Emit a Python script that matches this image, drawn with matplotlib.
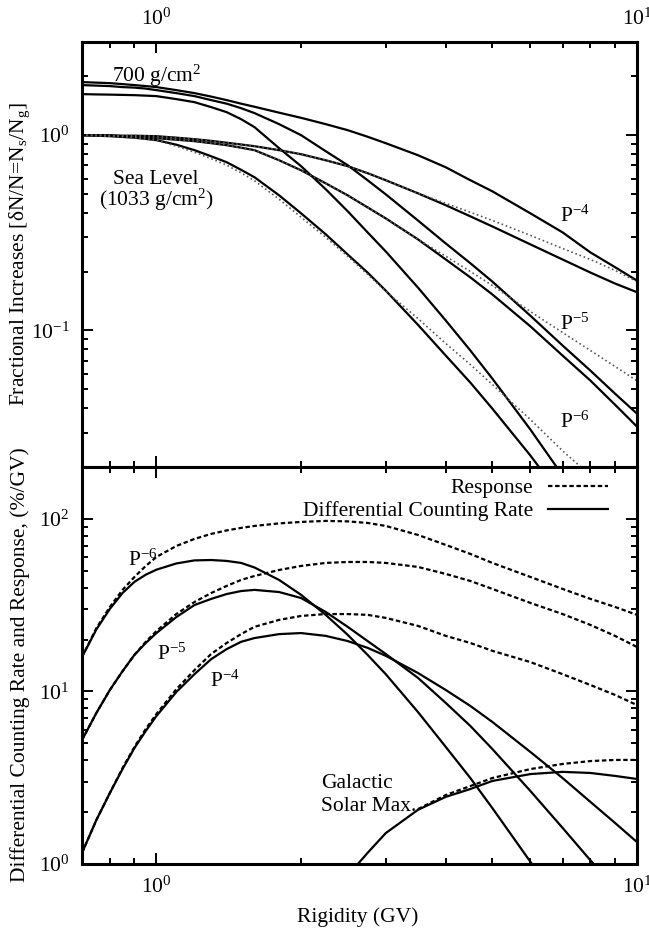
import matplotlib
matplotlib.use('Agg')
import matplotlib.pyplot as plt
from matplotlib.ticker import LogLocator, NullFormatter

plt.rcParams['font.family'] = ['Liberation Serif', 'DejaVu Serif']
plt.rcParams['mathtext.fontset'] = 'stix'
plt.rcParams['mathtext.default'] = 'regular'
plt.rcParams['font.size'] = 15.5

# rigidity grid (GV)
P = [0.7, 0.75, 0.8, 0.85, 0.9, 0.95, 1.0, 1.1, 1.2, 1.3, 1.4, 1.5, 1.6, 1.8, 2.0,
     2.25, 2.5, 2.75, 3.0, 3.5, 4.0, 4.5, 5.0, 6.0, 7.0, 8.0, 9.0, 10.0]

# top panel: fractional increases, 700 g/cm2
h700_p4 = [1.870, 1.858, 1.847, 1.826, 1.805, 1.784, 1.763, 1.701, 1.642, 1.576, 1.512, 1.450, 1.398, 1.304,
           1.227, 1.139, 1.061, 0.982, 0.910, 0.790, 0.685, 0.588, 0.516, 0.398, 0.318, 0.251, 0.211, 0.180]
h700_p5 = [1.805, 1.794, 1.784, 1.763, 1.752, 1.732, 1.701, 1.642, 1.585, 1.512, 1.450, 1.375, 1.297, 1.139,
           1.0, 0.828, 0.702, 0.588, 0.498, 0.366, 0.279, 0.221, 0.178, 0.119, 0.0838, 0.0623, 0.0475, 0.0375]
h700_p6 = [1.623, 1.617, 1.613, 1.608, 1.603, 1.594, 1.585, 1.530, 1.476, 1.392, 1.312, 1.208, 1.099, 0.858,
           0.694, 0.529, 0.408, 0.318, 0.254, 0.166, 0.1125, 0.0790, 0.0567, 0.0311, 0.0181]
# sea level
sea_p4 = [1.0, 1.0, 1.0, 0.994, 0.994, 0.991, 0.988, 0.971, 0.954, 0.935, 0.915, 0.896, 0.878, 0.838,
          0.799, 0.744, 0.694, 0.639, 0.588, 0.504, 0.438, 0.384, 0.341, 0.276, 0.231, 0.198, 0.174, 0.157]
sea_p5 = [1.0, 0.998, 0.994, 0.988, 0.982, 0.974, 0.965, 0.948, 0.932, 0.910, 0.889, 0.863, 0.838, 0.744,
          0.661, 0.567, 0.492, 0.427, 0.375, 0.293, 0.231, 0.187, 0.153, 0.105, 0.0744, 0.0554, 0.0417, 0.0322]
sea_p6 = [1.0, 0.994, 0.988, 0.979, 0.971, 0.957, 0.943, 0.894, 0.838, 0.780, 0.727, 0.665, 0.609, 0.492,
          0.398, 0.311, 0.245, 0.198, 0.160, 0.107, 0.0744, 0.0541, 0.0398, 0.0229, 0.0138]
# fitted approximations (dotted)
fit_p4 = [1.0, 1.0, 1.0, 0.994, 0.994, 0.991, 0.988, 0.971, 0.954, 0.935, 0.915, 0.896, 0.878, 0.838,
          0.799, 0.744, 0.694, 0.639, 0.588, 0.504, 0.448, 0.403, 0.366, 0.307, 0.263, 0.231, 0.203, 0.178]
fit_p5 = [1.0, 0.998, 0.994, 0.988, 0.982, 0.974, 0.965, 0.948, 0.932, 0.910, 0.889, 0.863, 0.838, 0.744,
          0.661, 0.567, 0.492, 0.427, 0.375, 0.293, 0.240, 0.2005, 0.170, 0.125, 0.0976, 0.0790, 0.0654, 0.0553]
fit_p6 = [1.0, 0.994, 0.988, 0.979, 0.971, 0.957, 0.943, 0.878, 0.818, 0.758, 0.702, 0.642, 0.584, 0.470,
          0.380, 0.300, 0.240, 0.194, 0.159, 0.1152, 0.0858, 0.0669, 0.0529, 0.0350, 0.0242, 0.0181]

# bottom panel: response (dashed) and differential counting rate (solid), %/GV
resp_p6 = [15.85, 23.3, 30.9, 38.8, 46.1, 53.4, 60.2, 69.7, 76.6, 81.9, 85.8, 88.7, 91.1, 94.2, 96.1,
           97.4, 96.8, 94.8, 91.1, 80.8, 70.7, 62.7, 55.6, 46.1, 39.3, 34.4, 30.9, 27.8]
rate_p6 = [15.85, 22.9, 30.1, 37.2, 43.2, 47.5, 50.8, 55.2, 57.5, 57.8, 57.1, 55.6, 52.3, 44.3, 36.3,
           27.8, 21.3, 16.3, 12.6, 7.61, 4.77, 3.15, 2.11, 1.03, 0.563]
resp_p5 = [5.23, 7.51, 10.2, 13.1, 16.3, 19.4, 22.4, 28.1, 33.0, 37.2, 40.9, 44.3, 46.7, 50.6, 53.4,
           55.6, 56.3, 56.3, 55.6, 52.7, 48.0, 43.7, 39.3, 32.6, 28.1, 24.3, 21.0, 18.1]
rate_p5 = [5.23, 7.51, 10.2, 13.1, 16.3, 19.1, 21.8, 27.0, 31.7, 34.4, 36.7, 38.2, 38.8, 37.7, 34.8,
           28.9, 23.7, 19.6, 16.5, 12.0, 8.58, 6.31, 4.64, 2.65, 1.62, 1.05, 0.726]
resp_p4 = [1.16, 1.80, 2.58, 3.60, 4.77, 6.06, 7.41, 10.3, 13.3, 16.5, 19.1, 21.5, 23.7, 26.0, 27.4,
           28.1, 28.1, 27.8, 26.7, 24.0, 21.0, 19.1, 17.2, 14.8, 12.6, 10.9, 9.55, 8.34]
rate_p4 = [1.16, 1.80, 2.58, 3.55, 4.70, 5.90, 7.21, 9.93, 12.6, 15.4, 17.6, 19.4, 20.4, 21.5, 21.8,
           21.0, 19.6, 17.9, 16.1, 12.8, 10.2, 8.24, 6.66, 4.46, 3.15, 2.29, 1.73, 1.34]

# galactic cosmic rays, solar max
P_gal = [2.6, 2.75, 3.0, 3.5, 4.0, 4.5, 5.0, 6.0, 7.0, 8.0, 9.0, 10.0]
rate_gal = [0.97, 1.16, 1.51, 2.06, 2.45, 2.72, 3.03, 3.32, 3.42, 3.37, 3.24, 3.11]
P_gal_r = [3.5, 4.0, 4.5, 5.0, 6.0, 7.0, 8.0, 9.0, 10.0]
resp_gal = [2.08, 2.51, 2.83, 3.15, 3.55, 3.80, 3.95, 4.01, 4.01]

W, H = 649, 934
fig = plt.figure(figsize=(W / 100, H / 100), dpi=100)
ax1 = fig.add_axes([82 / W, 1 - 467 / H, 555 / W, 425 / H])
ax2 = fig.add_axes([82 / W, 1 - 864 / H, 555 / W, 397 / H])

def fx(x):
    return x / W

def fy(y):
    return 1 - y / H

lw = 1.6
dash = (0, (2.0, 1.2))

#top panel
for y in [h700_p4, h700_p5, h700_p6, sea_p4, sea_p5, sea_p6]:
    ax1.plot(P[:len(y)], y, color='black', lw=lw)
for y in [fit_p4, fit_p5, fit_p6]:
    ax1.plot(P[:len(y)], y, color='0.35', lw=1.2, ls=':')

#bottom panel
ax2.plot(P, resp_p6, color='black', lw=lw, ls=dash, label='Response')
ax2.plot(P[:len(rate_p6)], rate_p6, color='black', lw=lw, label='Differential Counting Rate')
ax2.plot(P, resp_p5, color='black', lw=lw, ls=dash)
ax2.plot(P[:len(rate_p5)], rate_p5, color='black', lw=lw)
ax2.plot(P, resp_p4, color='black', lw=lw, ls=dash)
ax2.plot(P, rate_p4, color='black', lw=lw)
ax2.plot(P_gal_r, resp_gal, color='black', lw=lw, ls=dash)
ax2.plot(P_gal, rate_gal, color='black', lw=lw)

for ax in (ax1, ax2):
    ax.set_xscale('log')
    ax.set_yscale('log')
    ax.set_xlim(0.7, 10)
    ax.xaxis.set_minor_formatter(NullFormatter())
    ax.yaxis.set_minor_formatter(NullFormatter())
    ax.yaxis.set_minor_locator(LogLocator(base=10, subs=range(2, 10)))
    ax.tick_params(which='both', direction='in', top=True, right=True, width=1.4)
    ax.tick_params(which='major', length=8, pad=9)
    ax.tick_params(which='minor', length=4.5)
    for s in ax.spines.values():
        s.set_linewidth(2.2)

ax1.set_ylim(0.02, 3)
ax1.tick_params(axis='x', which='both', labeltop=True, labelbottom=False)
ax2.set_ylim(1, 200)

ax2.legend(loc='upper right', bbox_to_anchor=(0.948, 0.972), frameon=False,
           markerfirst=False, borderpad=0, borderaxespad=0, handlelength=2.8,
           handletextpad=0.7, labelspacing=0.15)

#annotations
fig.text(fx(112), fy(82), '700 g/cm$^2$', ha='left', va='baseline')
fig.text(fx(156), fy(184), 'Sea Level', ha='center', va='baseline')
fig.text(fx(156), fy(206), '(1033 g/cm$^2$)', ha='center', va='baseline')
fig.text(fx(560), fy(222), 'P$^{-4}$', ha='left', va='baseline')
fig.text(fx(560), fy(330), 'P$^{-5}$', ha='left', va='baseline')
fig.text(fx(560), fy(428), 'P$^{-6}$', ha='left', va='baseline')
fig.text(fx(128), fy(566), 'P$^{-6}$', ha='left', va='baseline')
fig.text(fx(157), fy(660), 'P$^{-5}$', ha='left', va='baseline')
fig.text(fx(210), fy(687), 'P$^{-4}$', ha='left', va='baseline')
fig.text(fx(321), fy(788), 'Galactic', ha='left', va='baseline')
fig.text(fx(321), fy(811), 'Solar Max.', ha='left', va='baseline')

fig.text(fx(20), fy(254), 'Fractional Increases [δN/N=N$_s$/N$_g$]', rotation=90, ha='center', va='center')
fig.text(fx(20), fy(665), 'Differential Counting Rate and Response, (%/GV)', rotation=90, ha='center', va='center')
fig.text(fx(358), fy(922), 'Rigidity (GV)', ha='center', va='baseline')

fig.savefig('out.png', dpi=100)
